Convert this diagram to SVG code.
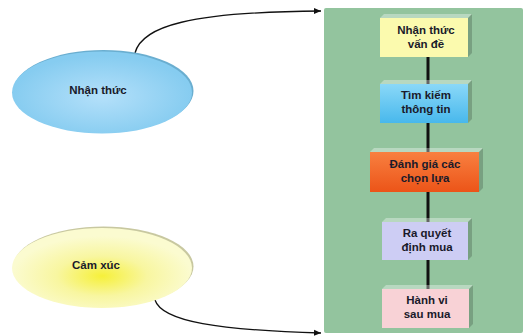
<svg xmlns="http://www.w3.org/2000/svg" width="523" height="336" viewBox="0 0 523 336">
<defs>
<radialGradient id="gBlue" cx="0.5" cy="0.55" r="0.5">
<stop offset="0" stop-color="#b4e0fa"/>
<stop offset="1" stop-color="#86ccf0"/>
</radialGradient>
<radialGradient id="gYel" cx="0.5" cy="0.6" r="0.5">
<stop offset="0" stop-color="#f6f03a"/>
<stop offset="0.5" stop-color="#f8f6a0"/>
<stop offset="1" stop-color="#fbfbd0"/>
</radialGradient>
<linearGradient id="gBox2" x1="0" y1="0" x2="0" y2="1">
<stop offset="0" stop-color="#8ad8f8"/>
<stop offset="1" stop-color="#48b8ec"/>
</linearGradient>
<linearGradient id="gBox3" x1="0" y1="0" x2="0" y2="1">
<stop offset="0" stop-color="#f88040"/>
<stop offset="1" stop-color="#ec5418"/>
</linearGradient>
<marker id="arr" markerWidth="8" markerHeight="8" refX="7" refY="4" orient="auto" markerUnits="userSpaceOnUse">
<path d="M0,1 L7,4 L0,7 z" fill="#111"/>
</marker>
<style>
.t{font-family:"Liberation Sans",Arial,sans-serif;font-weight:bold;font-size:11.5px;fill:#1a1a2a;text-anchor:middle}
.side{fill:#000;opacity:0.18}
.top{fill:#fff;opacity:0.35}
.conn{stroke:#111;stroke-width:3;fill:none}
.curve{stroke:#111;stroke-width:1.3;fill:none}
</style>
</defs>
<rect x="0" y="0" width="523" height="336" fill="#ffffff"/>
<g id="panel">
<rect x="324" y="8" width="199" height="325" rx="2" fill="#93c49e"/>
</g>
<g id="connectors">
<path class="curve" d="M135,53 C142,26 190,12 321,11" marker-end="url(#arr)"/>
<path class="curve" d="M155,300 C162,322 220,330 321,333" marker-end="url(#arr)"/>
<line class="conn" x1="428" y1="57" x2="428" y2="84"/>
<line class="conn" x1="428" y1="123" x2="428" y2="152"/>
<line class="conn" x1="428" y1="192" x2="428" y2="222"/>
<line class="conn" x1="428" y1="260" x2="428" y2="289"/>
</g>
<g id="nhanthuc">
<ellipse cx="103.5" cy="91" rx="90" ry="41" fill="#6aaed0"/>
<ellipse cx="102" cy="92.5" rx="90" ry="41" fill="url(#gBlue)"/>
<text class="t" x="98" y="94">Nhận thức</text>
</g>
<g id="camxuc">
<ellipse cx="103.5" cy="266.5" rx="90" ry="40" fill="#c8c8a0"/>
<ellipse cx="102" cy="268" rx="90" ry="40" fill="url(#gYel)"/>
<text class="t" x="96" y="269">Cảm xúc</text>
</g>
<g id="b1">
<rect x="380" y="18" width="88" height="39" fill="#fbfaae"/>
<path class="top" d="M380,18 L384,14 L472,14 L468,18 z"/>
<path class="side" d="M468,18 L472,14 L472,53 L468,57 z"/>
<text class="t" x="426" y="34">Nhận thức</text>
<text class="t" x="426" y="48">vấn đề</text>
</g>
<g id="b2">
<rect x="380" y="84" width="88" height="39" fill="url(#gBox2)"/>
<path class="top" d="M380,84 L384,80 L472,80 L468,84 z"/>
<path class="side" d="M468,84 L472,80 L472,119 L468,123 z"/>
<text class="t" x="426" y="99">Tìm kiếm</text>
<text class="t" x="426" y="113">thông tin</text>
</g>
<g id="b3">
<rect x="370" y="152" width="109" height="40" fill="url(#gBox3)"/>
<path class="top" d="M370,152 L374,148 L483,148 L479,152 z"/>
<path class="side" d="M479,152 L483,148 L483,188 L479,192 z"/>
<text class="t" x="425" y="168">Đánh giá các</text>
<text class="t" x="425" y="182">chọn lựa</text>
</g>
<g id="b4">
<rect x="382" y="222" width="86" height="38" fill="#cdcdf4"/>
<path class="top" d="M382,222 L386,218 L472,218 L468,222 z"/>
<path class="side" d="M468,222 L472,218 L472,256 L468,260 z"/>
<text class="t" x="427" y="237">Ra quyết</text>
<text class="t" x="427" y="251">định mua</text>
</g>
<g id="b5">
<rect x="382" y="289" width="87" height="39" fill="#f8d2d6"/>
<path class="top" d="M382,289 L386,285 L473,285 L469,289 z"/>
<path class="side" d="M469,289 L473,285 L473,324 L469,328 z"/>
<text class="t" x="427" y="304">Hành vi</text>
<text class="t" x="427" y="318">sau mua</text>
</g>
</svg>
